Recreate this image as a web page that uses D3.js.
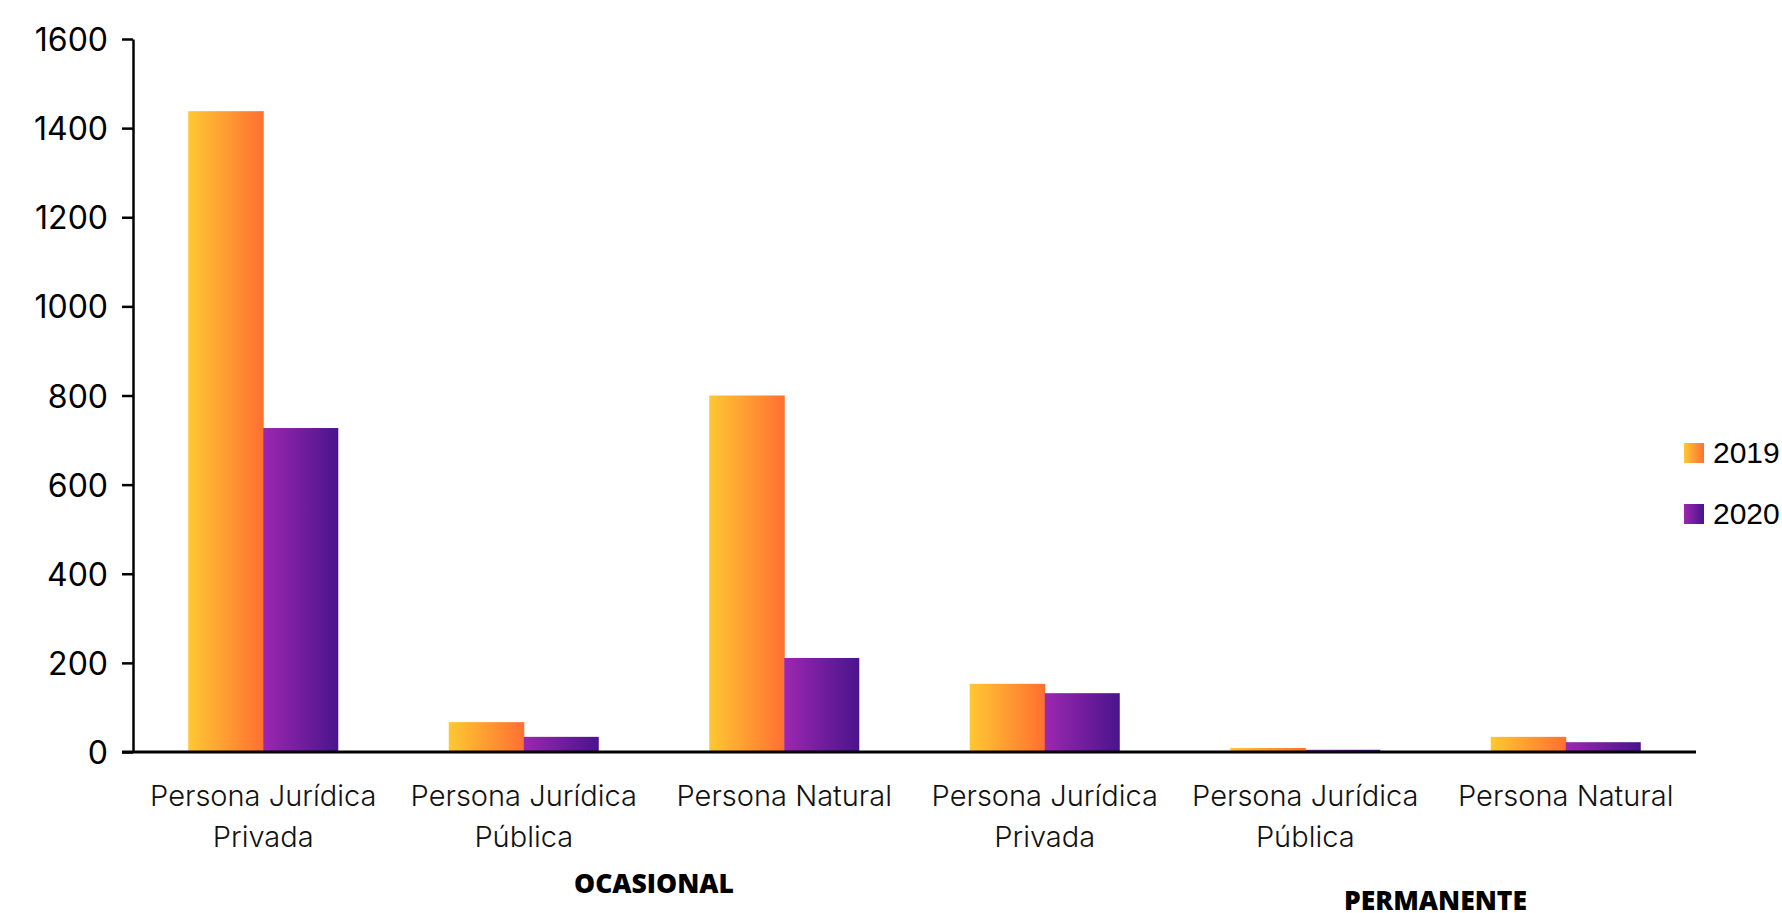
<!DOCTYPE html>
<html>
<head>
<meta charset="utf-8">
<script src="https://cdn.jsdelivr.net/npm/d3@7"></script>
<style>
  html, body { margin: 0; padding: 0; background: #fff; overflow: hidden; }
  svg { display: block; }
</style>
</head>
<body>
<svg id="chart" width="1782" height="913"></svg>
<script>
// ---- data ----
const categories = [
  ["Persona Jurídica", "Privada"],
  ["Persona Jurídica", "Pública"],
  ["Persona Natural"],
  ["Persona Jurídica", "Privada"],
  ["Persona Jurídica", "Pública"],
  ["Persona Natural"]
];
const groups = ["OCASIONAL", "PERMANENTE"];
const groupLabelAt = [2, 5];          // category boundary index under which group label sits
const seriesNames = ["2019", "2020"];
const values2019 = [1438, 67, 800, 153, 9, 34];
const values2020 = [727, 34, 211, 132, 5, 22];
const yTicks = [0, 200, 400, 600, 800, 1000, 1200, 1400, 1600];

(function () {
const mLeft = 133, mRight = 1696, mTop = 39, mBottom = 752;

const svg = d3.select("#chart");
const defs = svg.append("defs");
const grads = [
  ["g2019", "#FEC832", "#FF6F31"],
  ["g2020", "#9C27B0", "#4A148C"]
];
grads.forEach(([id, c1, c2]) => {
  const g = defs.append("linearGradient").attr("id", id)
    .attr("x1", "0%").attr("x2", "100%").attr("y1", "0%").attr("y2", "0%");
  g.append("stop").attr("offset", "0%").attr("stop-color", c1);
  g.append("stop").attr("offset", "100%").attr("stop-color", c2);
});

const idx = d3.range(categories.length);
const x = d3.scaleBand().domain(idx).range([mLeft, mRight]).paddingInner(0.424).paddingOuter(0.212);
const x1 = d3.scaleBand().domain(seriesNames).range([0, x.bandwidth()]);
const y = d3.scaleLinear().domain([0, 1600]).range([mBottom, mTop]);

const data = idx.map(i => ({ i, vals: [values2019[i], values2020[i]] }));

// bars
const gBars = svg.append("g");
data.forEach(d => {
  d.vals.forEach((v, s) => {
    gBars.append("rect")
      .attr("x", x(d.i) + x1(seriesNames[s]))
      .attr("y", y(v))
      .attr("width", x1.bandwidth() + (s === 0 ? 0.5 : 0))
      .attr("height", y(0) - y(v))
      .attr("fill", `url(#g${seriesNames[s]})`);
  });
});

// y axis
const yAxis = d3.axisLeft(y).tickValues(yTicks).tickFormat(d3.format("d"))
  .tickSize(11).tickPadding(14).tickSizeOuter(0);
const gy = svg.append("g").attr("transform", `translate(${mLeft},0)`).call(yAxis);
gy.select(".domain").attr("stroke", "#000").attr("stroke-width", 2.5);
gy.selectAll(".tick line").attr("stroke", "#000").attr("stroke-width", 2.5);
gy.selectAll(".tick text")
  .attr("fill", "#000")
  .style("font-family", "Inter, 'Noto Sans', sans-serif")
  .style("font-size", "32px")
  .style("font-weight", 400)
  .attr("dy", "0.36em");

// x axis line
svg.append("line")
  .attr("x1", mLeft - 11).attr("x2", mRight)
  .attr("y1", y(0)).attr("y2", y(0))
  .attr("stroke", "#000").attr("stroke-width", 3);

// category labels
const gCat = svg.append("g");
categories.forEach((lines, i) => {
  const t = gCat.append("text")
    .attr("x", x(i) + x.bandwidth() / 2)
    .attr("y", 806)
    .attr("text-anchor", "middle")
    .attr("fill", "#111")
    .style("font-family", "Inter, 'Noto Sans', sans-serif")
    .style("font-size", "29px")
    .style("font-weight", 300);
  lines.forEach((ln, k) => {
    t.append("tspan").attr("x", x(i) + x.bandwidth() / 2).attr("dy", k === 0 ? 0 : 41).text(ln);
  });
});

// group labels
const step = x.step();
const groupY = [893, 910];
groups.forEach((g, k) => {
  svg.append("text")
    .attr("x", mLeft + step * groupLabelAt[k])
    .attr("y", groupY[k])
    .attr("text-anchor", "middle")
    .attr("fill", "#000")
    .style("font-family", "'Open Sans', Inter, sans-serif")
    .style("font-size", "26.5px")
    .style("font-weight", 800)
    .text(g);
});

// legend
const legY = [443, 504];
seriesNames.forEach((s, k) => {
  svg.append("rect")
    .attr("x", 1684).attr("y", legY[k])
    .attr("width", 20).attr("height", 20)
    .attr("fill", `url(#g${s})`);
  svg.append("text")
    .attr("x", 1713).attr("y", legY[k] + 20)
    .attr("fill", "#000")
    .style("font-family", "'Liberation Sans', Arial, sans-serif")
    .style("font-size", "30px")
    .text(s);
});
})();
</script>
</body>
</html>
